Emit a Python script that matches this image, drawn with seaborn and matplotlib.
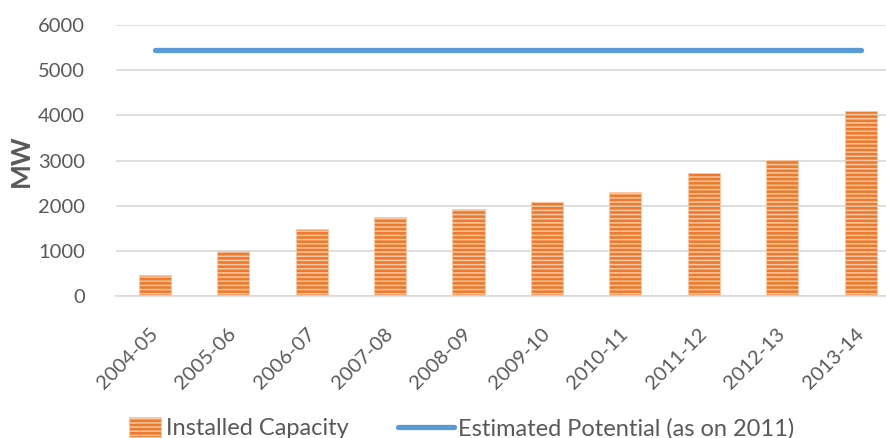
import matplotlib
matplotlib.use("Agg")
import matplotlib.pyplot as plt
import seaborn as sns
import numpy as np
from matplotlib.patches import Patch, Rectangle
from matplotlib.lines import Line2D
from matplotlib.legend_handler import HandlerPatch

# Installed solar capacity by fiscal year (MW)
years = ["2004-05", "2005-06", "2006-07", "2007-08", "2008-09",
         "2009-10", "2010-11", "2011-12", "2012-13", "2013-14"]
installed = [465, 1000, 1483, 1750, 1935, 2075, 2310, 2730, 3010, 4090]
# Estimated potential (as on 2011), MW
potential = [5440, 5440, 5440, 5440, 5440, 5440, 5440, 5440, 5440, 5440]

yticks = [0, 1000, 2000, 3000, 4000, 5000, 6000]

BAR = "#EE7A2E"
STRIPE = "#F8C9A6"
LINE = "#5B9BD5"
TEXT = "#595959"
GRID = "#D9D9D9"

sns.set_theme(style="white")
plt.rcParams["font.family"] = ["Lato", "DejaVu Sans"]
plt.rcParams["hatch.linewidth"] = 1.1

fig = plt.figure(figsize=(8.86, 4.38), dpi=100)
ax = fig.add_axes([0.1306, 0.324, 0.885, 0.619])

sns.barplot(x=years, y=installed, color=BAR, width=0.41, saturation=1,
            ax=ax, zorder=2)
for p in ax.patches:
    p.set_hatch("----")
    p.set_edgecolor(STRIPE)
    p.set_linewidth(0.6)

sns.lineplot(x=np.arange(len(years)), y=potential, color=LINE, lw=3.8,
             ax=ax, zorder=3, solid_capstyle="round")

ax.set_ylim(0, 6000)
ax.set_xlim(-0.5, len(years) - 0.5)
ax.set_yticks(yticks)
ax.set_yticklabels([str(v) for v in yticks])
ax.set_xticks(np.arange(len(years)))
ax.set_xticklabels(years, rotation=45, ha="right", va="center",
                   rotation_mode="anchor")
ax.yaxis.grid(True, color=GRID, lw=1.2, zorder=0)
ax.set_axisbelow(True)
for s in ["left", "right", "top"]:
    ax.spines[s].set_visible(False)
ax.spines["bottom"].set_color(GRID)
ax.spines["bottom"].set_linewidth(1.2)
ax.tick_params(axis="both", length=0, colors=TEXT, labelsize=14.5)
ax.tick_params(axis="y", pad=22)
ax.tick_params(axis="x", pad=25)
ax.set_xlabel("")
ax.set_ylabel("MW", fontsize=19, fontweight="bold", color=TEXT, labelpad=4)


def narrow_swatch(legend, orig_handle, xdescent, ydescent, width, height,
                  fontsize):
    # shorter swatch, right-aligned next to its label
    w = width * 0.58
    return Rectangle((-xdescent + width - w, -ydescent - 1), w, height + 2)


handles = [Patch(facecolor=BAR, edgecolor=STRIPE, hatch="----", lw=0.6,
                 label="Installed Capacity"),
           Line2D([0], [0], color=LINE, lw=3.8, solid_capstyle="round",
                  label="Estimated Potential (as on 2011)")]
fig.legend(handles=handles, loc="center", bbox_to_anchor=(0.508, 0.022),
           ncol=2, frameon=False, fontsize=17, labelcolor=TEXT,
           handlelength=2.35, handletextpad=0.2, columnspacing=2.1,
           handler_map={Patch: HandlerPatch(patch_func=narrow_swatch)})

fig.savefig("out.png", dpi=100)
